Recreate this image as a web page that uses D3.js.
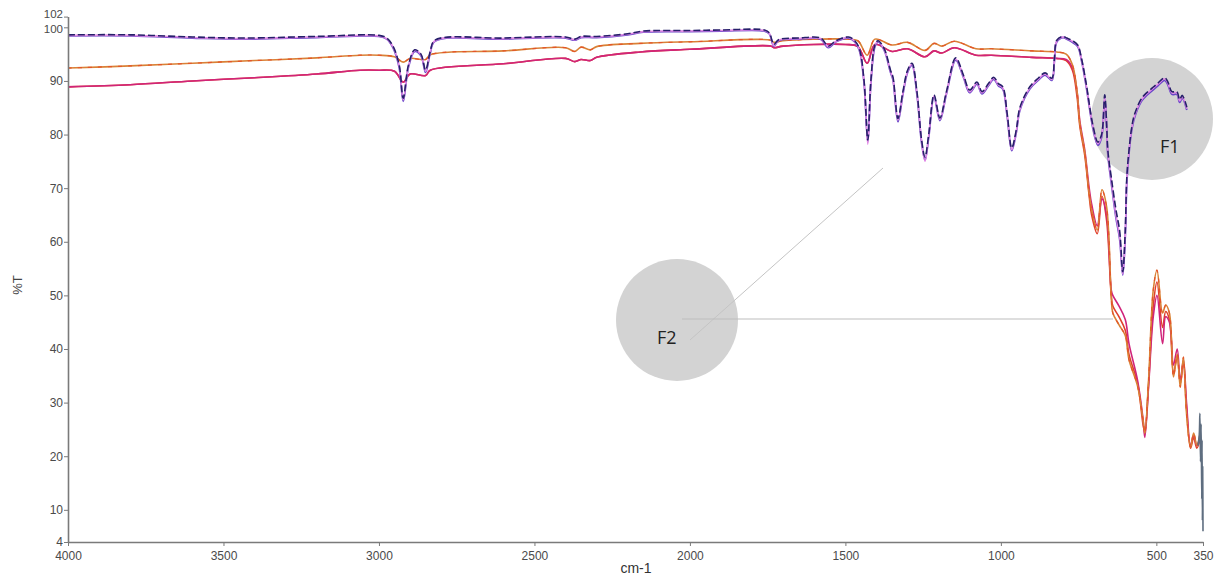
<!DOCTYPE html>
<html><head><meta charset="utf-8">
<script src="https://cdn.jsdelivr.net/npm/d3@7/dist/d3.min.js"></script>
<style>html,body{margin:0;padding:0;background:#fff;}svg{display:block;}</style>
</head><body>
<svg id="chart" width="1217" height="578"></svg>
<script>
// ---- data ----
const xTicks = [4000, 3500, 3000, 2500, 2000, 1500, 1000, 500, 350];
const yTicks = [102, 100, 90, 80, 70, 60, 50, 40, 30, 20, 10, 4];

// group A (three overlapping scans): wavenumbers and %T
const wnA = [4000,3800,3600,3437,3200,3000,2975,2955,2935,2922,2905,2885,2865,2850,2835,2820,2600,2400,2370,2350,2300,2200,2150,2000,1900,1760,1745,1730,1715,1650,1580,1555,1530,1490,1470,1455,1440,1428,1418,1405,1395,1375,1355,1347,1331,1315,1300,1286,1270,1255,1244,1232,1215,1196,1175,1145,1120,1100,1077,1061,1040,1023,1008,994,980,965,950,939,907,880,858,836,828,820,800,788,770,753,740,724,705,688,676,666,660,656,645,630,618,608,600,595,588,580,571,550,538,513,495,473,463,450,434,425,417,402];
const navy = [98.6,98.6,98.2,98.0,98.3,98.5,98.0,96.5,93,86.8,93,95.8,95,92,95.5,97.6,98.0,98.2,97.8,98.3,98.3,98.8,99.3,99.4,99.5,99.5,99,96.8,97.7,98.0,98.0,96.5,97.5,98.2,97.5,96,90,79,90,96.7,97.5,96,92,90.7,83,88,92,93.3,88,79,75.8,80,87.4,83.1,88,94.3,91,88.3,89.8,88,89.5,90.7,89.5,88.9,84,77.5,81,85,88.9,90.5,91.5,90.5,94,97.6,98.3,98,97.5,96.7,94,88.9,82,78.6,80,87.4,82,77,72,66,62,54.4,62,72,77,81,83.6,86.5,87.4,88.7,89.6,90.6,89.8,88,88,86.5,87.3,85.1];
const violet = [98.4,98.4,98.0,97.8,98.1,98.3,97.8,96.2,92.5,86.2,92.6,95.5,94.7,91.6,95.2,97.4,97.8,98.0,97.6,98.1,98.1,98.6,99.1,99.2,99.3,99.3,98.8,96.5,97.5,97.8,97.8,96.2,97.3,98.0,97.3,95.7,89.6,78.6,89.6,96.4,97.3,95.7,91.6,90.2,82.4,87.5,91.6,92.9,87.5,78.5,75.2,79.5,87.0,82.6,87.6,93.9,90.6,87.8,89.4,87.6,89.1,90.3,89.1,88.5,83.5,77.0,80.5,84.5,88.5,90.1,91.1,90.1,93.6,97.3,98.1,97.8,97.2,96.4,93.6,88.4,81.5,78.0,79.5,86.8,81.5,76.3,71,64.5,60.5,53.8,61,71,76.5,80.5,83.0,86.0,86.9,88.2,89.1,90.1,89.3,87.5,87.5,86.0,86.8,84.6];
const pinkA = [98.5,98.5,98.1,97.9,98.2,98.4,97.9,96.4,92.8,86.5,92.8,95.7,94.9,91.8,95.4,97.5,97.9,98.1,97.7,98.2,98.2,98.7,99.2,99.3,99.4,99.4,98.9,96.6,97.6,97.9,97.9,96.4,97.4,98.1,97.4,95.8,89.8,78.2,89.8,96.6,97.4,95.8,91.8,90.4,82.7,87.7,91.8,93.1,87.7,78.8,75.0,79.8,87.2,82.8,87.8,94.1,90.8,88.0,89.6,87.8,89.3,90.5,89.3,88.7,83.7,77.2,80.7,84.7,88.7,90.3,91.3,90.3,93.8,97.5,98.2,97.9,97.4,96.6,93.8,88.6,81.8,78.3,79.8,87.0,81.8,76.6,71.5,65,61,54,61.5,71.5,76.8,80.8,83.3,86.3,87.2,88.5,89.4,90.4,89.6,87.8,87.8,86.3,87.0,84.8];

// group B (three scans)
const wnB = [4000,3800,3600,3400,3200,3061,3000,2950,2922,2900,2850,2835,2600,2400,2370,2350,2320,2300,2160,2000,1740,1730,1700,1500,1460,1430,1405,1350,1300,1244,1215,1190,1150,1080,1030,900,820,790,770,755,746,730,716,708,690,675,660,645,640,620,600,588,560,543,537,525,510,498,480,470,458,445,433,423,413,403,390,380,370,360];
const orange = [92.4,92.8,93.3,93.8,94.3,94.8,94.8,94.5,93.5,94.2,94.0,94.9,95.6,96.2,95.5,96.3,95.8,96.4,97.0,97.3,97.6,97.2,97.5,97.8,97.5,94.8,97.8,96.7,97.2,95.7,97.0,96.5,97.4,96.0,96.0,95.6,95.4,95.0,93.0,88,82,76.6,69,66,62.2,69.7,66.5,49.7,46.7,44.5,42.5,38,33,26.8,24.3,34.2,51,54.7,46.7,48.2,46.7,34.8,39,32.9,38.5,28,21.7,24.3,22,24];
const magenta = [88.9,89.3,90.0,90.6,91.3,92.0,92.0,91.8,89.8,91.3,91.0,92.0,93.2,94.2,93.6,94.0,93.8,94.4,95.4,95.9,96.5,96.2,96.5,96.8,96.4,93.3,96.8,95.5,96.0,94.5,95.6,95.2,96.2,94.8,94.8,94.4,94.2,94.0,92.5,88,82.5,77,70,67,63,68,65,51,50,48,45.5,41,34,27,23.5,33,46,50,41,46,45,37,40,34,38,30,22,24,22,23];
const red = [88.9,89.3,90.0,90.6,91.3,92.0,92.0,91.8,89.8,91.3,91.0,92.0,93.2,94.2,93.6,94.0,93.8,94.4,95.4,95.9,96.5,96.2,96.5,96.8,96.4,93.3,96.8,95.5,96.0,94.5,95.6,95.2,96.2,94.8,94.8,94.4,94.2,93.8,92.0,87,81.5,76,68.5,65,61.5,68.5,64,50,48,46,43.5,39,33.5,26,24.5,33.5,48,52.5,44,47,45.5,35.5,38.5,33.5,37.5,29,21.5,23.5,21.5,23];

// gray noise scan at the low end
const wnG = [366,362,360,358,356,354,353,352,351,350];
const grayT = [22,24,28,19,26,12,23,8,18,6];

const notes = [
  {label:"F1", cx:1152, cy:119},
  {label:"F2", cx:677, cy:320}
];

// ---- chart ----
const svg = d3.select("#chart");
const x = d3.scaleLinear().domain([4000, 350]).range([68, 1203]);
const y = d3.scaleLinear().domain([4, 102]).range([542, 16.6]);

// annotation circles (behind the curves)
svg.selectAll("circle.note").data(notes).enter().append("circle")
  .attr("class","note").attr("cx",d=>d.cx).attr("cy",d=>d.cy).attr("r",61)
  .attr("fill","#d3d3d3");

// leader lines from F2
svg.append("line").attr("x1",690).attr("y1",340).attr("x2",883).attr("y2",168)
  .attr("stroke","#c4c4c4").attr("stroke-width",1);
svg.append("line").attr("x1",682).attr("y1",319).attr("x2",1113).attr("y2",319)
  .attr("stroke","#bdbdbd").attr("stroke-width",1);

const line = (wn) => d3.line().x((d,i)=>x(wn[i])).y(d=>y(d)).curve(d3.curveCatmullRom.alpha(0.5));

// group B
svg.append("path").datum(red).attr("d", line(wnB)).attr("fill","none").attr("stroke","#e0402c").attr("stroke-width",1.6);
svg.append("path").datum(magenta).attr("d", line(wnB)).attr("fill","none").attr("stroke","#d0247a").attr("stroke-width",1.6);
svg.append("path").datum(orange).attr("d", line(wnB)).attr("fill","none").attr("stroke","#d98236").attr("stroke-width",1.6);
svg.append("path").datum(orange).attr("d", line(wnB)).attr("fill","none").attr("stroke","#e5532a").attr("stroke-width",1.2).attr("stroke-dasharray","4,6");

// group A
svg.append("path").datum(violet).attr("d", line(wnA)).attr("fill","none").attr("stroke","#6a48c8").attr("stroke-width",1.8);
svg.append("path").datum(pinkA).attr("d", line(wnA)).attr("fill","none").attr("stroke","#e38ae6").attr("stroke-width",1.6);
svg.append("path").datum(navy).attr("d", line(wnA)).attr("fill","none").attr("stroke","#26206a").attr("stroke-width",1.6).attr("stroke-dasharray","7,3");

// gray scan
svg.append("path").datum(grayT).attr("d", line(wnG)).attr("fill","none").attr("stroke","#5f6e80").attr("stroke-width",1.6);

// annotation labels
svg.selectAll("text.note").data(notes).enter().append("text")
  .attr("class","note").attr("x",d=>d.cx+(d.label==="F1"?8:-20)).attr("y",d=>d.cy+(d.label==="F1"?34:24))
  .attr("font-family","'Open Sans', sans-serif").attr("font-size",18).attr("fill","#222")
  .text(d=>d.label);

// axes
const xAxis = d3.axisBottom(x).tickValues(xTicks).tickSize(4).tickSizeOuter(0).tickFormat(d3.format("d"));
const yAxis = d3.axisLeft(y).tickValues(yTicks).tickSize(4).tickSizeOuter(0).tickFormat(d3.format("d"));
const gx = svg.append("g").attr("transform","translate(0,542)").call(xAxis);
const gy = svg.append("g").attr("transform","translate(68,0)").call(yAxis);
[gx, gy].forEach(g => {
  g.select(".domain").attr("stroke","#7a7a7a").attr("stroke-width",1.6);
  g.selectAll(".tick line").attr("stroke","#7a7a7a");
  g.selectAll(".tick text").attr("fill","#4a4a4a").attr("font-family","'Liberation Sans', Arial, sans-serif").attr("font-size",12);
});
gx.selectAll(".tick text").attr("dy","0.9em");
gy.selectAll(".tick text").attr("x",-5);
gy.selectAll(".tick").filter(d=>d===102).select("text").attr("font-size",11.5).attr("dy","0.05em");
gy.selectAll(".tick").filter(d=>d===100).select("text").attr("font-size",11.5).attr("dy","0.42em");

svg.append("text").attr("x",636).attr("y",573).attr("text-anchor","middle")
  .attr("font-family","'Liberation Sans', Arial, sans-serif").attr("font-size",14).attr("fill","#333").text("cm-1");
svg.append("text").attr("transform","translate(22,285) rotate(-90)").attr("text-anchor","middle")
  .attr("font-family","'Liberation Sans', Arial, sans-serif").attr("font-size",13).attr("fill","#444").text("%T");
</script>
</body></html>
